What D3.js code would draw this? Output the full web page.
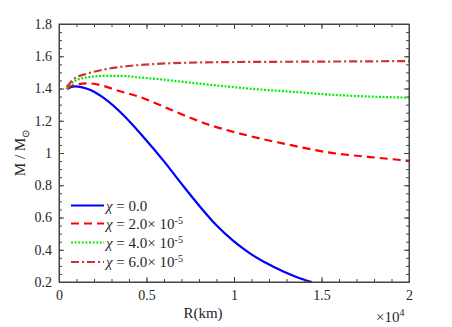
<!DOCTYPE html>
<html><head><meta charset="utf-8">
<script src="https://cdn.jsdelivr.net/npm/d3@7/dist/d3.min.js"></script>
<style>body{margin:0;background:#fff}svg{display:block}</style>
</head><body><svg id="c" width="452" height="327"></svg>
<script>
const xTicks = [0, 0.5, 1, 1.5, 2];
const xTickLabels = ["0", "0.5", "1", "1.5", "2"];
const yTicks = [0.2, 0.4, 0.6, 0.8, 1, 1.2, 1.4, 1.6, 1.8];
const yTickLabels = ["0.2", "0.4", "0.6", "0.8", "1", "1.2", "1.4", "1.6", "1.8"];
const seriesNames = ["0.0", "2.0", "4.0", "6.0"];
// R in units of 1e4 km, M in solar masses
const r0 = [0.044, 0.09, 0.18, 0.263, 0.377, 0.49, 0.606, 0.71, 0.806, 0.901, 0.996, 1.091, 1.187, 1.282, 1.36, 1.444];
const m0 = [1.397, 1.413, 1.39, 1.335, 1.225, 1.09, 0.94, 0.795, 0.667, 0.55, 0.455, 0.378, 0.316, 0.265, 0.23, 0.2];
const r2 = [0.044, 0.08, 0.167, 0.358, 0.482, 0.549, 0.844, 1.091, 1.32, 1.549, 1.777, 2.0];
const m2 = [1.398, 1.42, 1.432, 1.38, 1.34, 1.31, 1.18, 1.105, 1.05, 1.002, 0.975, 0.952];
const r4 = [0.044, 0.07, 0.13, 0.263, 0.358, 0.463, 0.549, 0.768, 1.07, 1.377, 1.549, 2.0];
const m4 = [1.4, 1.43, 1.463, 1.478, 1.478, 1.468, 1.46, 1.434, 1.401, 1.376, 1.362, 1.343];
const r6 = [0.044, 0.09, 0.167, 0.263, 0.358, 0.549, 0.739, 1.1, 1.32, 2.0];
const m6 = [1.41, 1.463, 1.494, 1.519, 1.535, 1.552, 1.56, 1.565, 1.566, 1.57];

const FONT = '"Liberation Serif", "Times New Roman", serif';
const svg = d3.select("#c");
const L = 59, R = 409, T = 24, B = 282;
const x = d3.scaleLinear().domain([0, 2]).range([L, R]);
const y = d3.scaleLinear().domain([0.2, 1.8]).range([B, T]);

const styles = [
  {c: "#0000ff", d: null},
  {c: "#ff0000", d: "8,5"},
  {c: "#00ee00", d: "2,1.6"},
  {c: "#cc3333", d: "8,3,2,3"}
];
const data = [[r0, m0], [r2, m2], [r4, m4], [r6, m6]];

const line = d3.line().x(d => x(d[0])).y(d => y(d[1])).curve(d3.curveMonotoneX);
const clip = svg.append("defs").append("clipPath").attr("id", "pc");
clip.append("rect").attr("x", L).attr("y", T).attr("width", R - L).attr("height", B - T);

const g = svg.append("g").attr("clip-path", "url(#pc)");
data.forEach((s, i) => {
  const pts = s[0].map((v, k) => [v, s[1][k]]);
  g.append("path").attr("d", line(pts)).attr("fill", "none")
    .attr("stroke", styles[i].c).attr("stroke-width", 2.2)
    .attr("stroke-dasharray", styles[i].d);
});

// axes
const axCol = "#444";
svg.append("g").attr("transform", `translate(0,${B})`)
  .call(d3.axisBottom(x).tickValues(xTicks).tickFormat((d, i) => xTickLabels[i]).tickSizeInner(-5).tickSizeOuter(0).tickPadding(8));
svg.append("g").attr("transform", `translate(0,${T})`)
  .call(d3.axisTop(x).tickValues(xTicks).tickFormat("").tickSizeInner(-5).tickSizeOuter(0));
svg.append("g").attr("transform", `translate(${L},0)`)
  .call(d3.axisLeft(y).tickValues(yTicks).tickFormat((d, i) => yTickLabels[i]).tickSizeInner(-5).tickSizeOuter(0).tickPadding(7));
svg.append("g").attr("transform", `translate(${R},0)`)
  .call(d3.axisRight(y).tickValues(yTicks).tickFormat("").tickSizeInner(-5).tickSizeOuter(0));
// minor ticks
const xMinor = d3.range(0, 2.0001, 0.1);
const yMinor = d3.range(0.2, 1.8001, 0.05);
svg.append("g").attr("transform", `translate(0,${B})`).call(d3.axisBottom(x).tickValues(xMinor).tickFormat("").tickSizeInner(-3).tickSizeOuter(0));
svg.append("g").attr("transform", `translate(0,${T})`).call(d3.axisTop(x).tickValues(xMinor).tickFormat("").tickSizeInner(-3).tickSizeOuter(0));
svg.append("g").attr("transform", `translate(${L},0)`).call(d3.axisLeft(y).tickValues(yMinor).tickFormat("").tickSizeInner(-3).tickSizeOuter(0));
svg.append("g").attr("transform", `translate(${R},0)`).call(d3.axisRight(y).tickValues(yMinor).tickFormat("").tickSizeInner(-3).tickSizeOuter(0));
svg.selectAll(".domain, .tick line").attr("stroke", axCol);
svg.selectAll(".tick text").attr("font-size", 14);
svg.append("rect").attr("x", L).attr("y", T).attr("width", R - L).attr("height", B - T)
  .attr("fill", "none").attr("stroke", axCol).attr("stroke-width", 1);

// labels
svg.append("text").attr("x", 203).attr("y", 318).attr("text-anchor", "middle").attr("font-size", 15).text("R(km)");
const ex = svg.append("text").attr("x", 376).attr("y", 322).attr("font-size", 15);
ex.append("tspan").text("×10");
ex.append("tspan").attr("dy", -6).attr("font-size", 10).text("4");
const yt = svg.append("text").attr("transform", "translate(25,153) rotate(-90)").attr("text-anchor", "middle").attr("font-size", 15);
yt.append("tspan").text("M  /  M");
yt.append("tspan").attr("dy", 4).attr("font-size", 10).text("⊙");

// legend
const legY = [205.5, 223.5, 242.5, 262];
seriesNames.forEach((n, i) => {
  svg.append("line").attr("x1", 71).attr("x2", 104).attr("y1", legY[i]).attr("y2", legY[i])
    .attr("stroke", styles[i].c).attr("stroke-width", 2.2).attr("stroke-dasharray", styles[i].d);
  const t = svg.append("text").attr("x", 106).attr("y", legY[i] + 5).attr("font-size", 15);
  t.append("tspan").attr("font-style", "italic").text("χ");
  t.append("tspan").text(" = " + n);
  if (i > 0) {
    t.append("tspan").text("×  10");
    t.append("tspan").attr("dy", -5).attr("font-size", 10).text("-5");
  }
});
svg.selectAll("text").style("font-family", FONT).style("fill", "#262626");
</script></body></html>
